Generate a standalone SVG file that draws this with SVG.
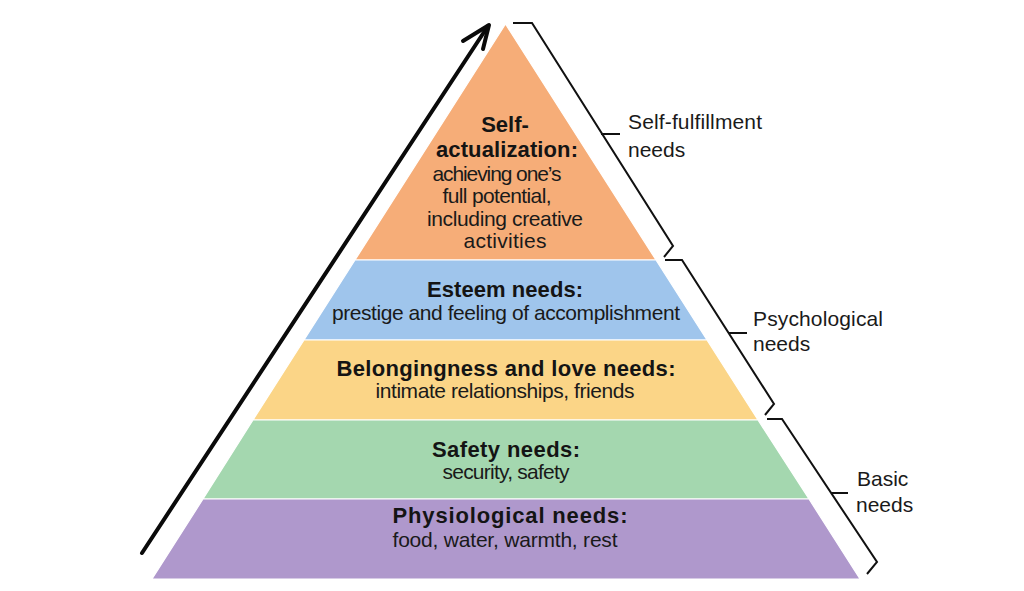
<svg xmlns="http://www.w3.org/2000/svg" width="1024" height="591" viewBox="0 0 1024 591">
  <style>
    .band { stroke: #ffffff; stroke-width: 1.2; }
    .b { font-family: "Liberation Sans", Arial, sans-serif; font-weight: bold; font-size: 22px; fill: #141414; text-anchor: middle; }
    .r { font-family: "Liberation Sans", Arial, sans-serif; font-size: 21px; fill: #1a1a1a; text-anchor: middle; }
    .lab { font-family: "Liberation Sans", Arial, sans-serif; font-size: 21px; fill: #1a1a1a; }
    .brace { fill: none; stroke: #111111; stroke-width: 2; stroke-linejoin: miter; }
    .arrow { fill: none; stroke: #0a0a0a; stroke-width: 4; stroke-linecap: round; stroke-linejoin: round; }
  </style>
  <rect width="1024" height="591" fill="#ffffff"/>

  <g id="level-self-actualization">
    <polygon class="band" points="505.5,24 656,260 355,260" fill="#F6AD78"/>
    <text class="b" x="505" y="132">Self-</text>
    <text class="b" x="507" y="157" textLength="142">actualization:</text>
    <text class="r" x="497" y="181" textLength="129">achieving one’s</text>
    <text class="r" x="497" y="203" textLength="109">full potential,</text>
    <text class="r" x="505" y="226" textLength="156">including creative</text>
    <text class="r" x="505" y="248" textLength="83">activities</text>
  </g>

  <g id="level-esteem">
    <polygon class="band" points="355,260 656,260 707,340 304,340" fill="#9FC5EC"/>
    <text class="b" x="505" y="297" textLength="156">Esteem needs:</text>
    <text class="r" x="506" y="320" textLength="348">prestige and feeling of accomplishment</text>
  </g>

  <g id="level-belonging">
    <polygon class="band" points="304,340 707,340 758,420 253,420" fill="#FBD587"/>
    <text class="b" x="506" y="376" textLength="339">Belongingness and love needs:</text>
    <text class="r" x="505" y="398" textLength="259">intimate relationships, friends</text>
  </g>

  <g id="level-safety">
    <polygon class="band" points="253,420 758,420 809,499 203,499" fill="#A4D7AF"/>
    <text class="b" x="506" y="457" textLength="148">Safety needs:</text>
    <text class="r" x="506" y="479" textLength="127">security, safety</text>
  </g>

  <g id="level-physiological">
    <polygon class="band" points="203,499 809,499 860,579 152,579" fill="#AF98CC"/>
    <text class="b" x="510" y="523" textLength="235">Physiological needs:</text>
    <text class="r" x="505" y="547" textLength="225">food, water, warmth, rest</text>
  </g>

  <g id="label-self-fulfillment">
    <text class="lab" x="628" y="129" textLength="134">Self-fulfillment</text>
    <text class="lab" x="628" y="157">needs</text>
  </g>
  <g id="label-psychological">
    <text class="lab" x="753" y="326" textLength="130">Psychological</text>
    <text class="lab" x="753" y="351">needs</text>
  </g>
  <g id="label-basic">
    <text class="lab" x="857" y="486">Basic</text>
    <text class="lab" x="856" y="512">needs</text>
  </g>

  <g id="connectors">
    <path class="brace" d="M513,23 H532 L673,246 L664,257 M601,134 H620"/>
    <path class="brace" d="M665,260 H682 L774,404 L765,415 M729,333 H747"/>
    <path class="brace" d="M767,419 H782 L877,562 L867,574 M831,493 H848"/>
    <path class="arrow" d="M142,553 L488,26"/>
    <polyline class="arrow" points="463,41 489,25 483,49"/>
  </g>
</svg>
